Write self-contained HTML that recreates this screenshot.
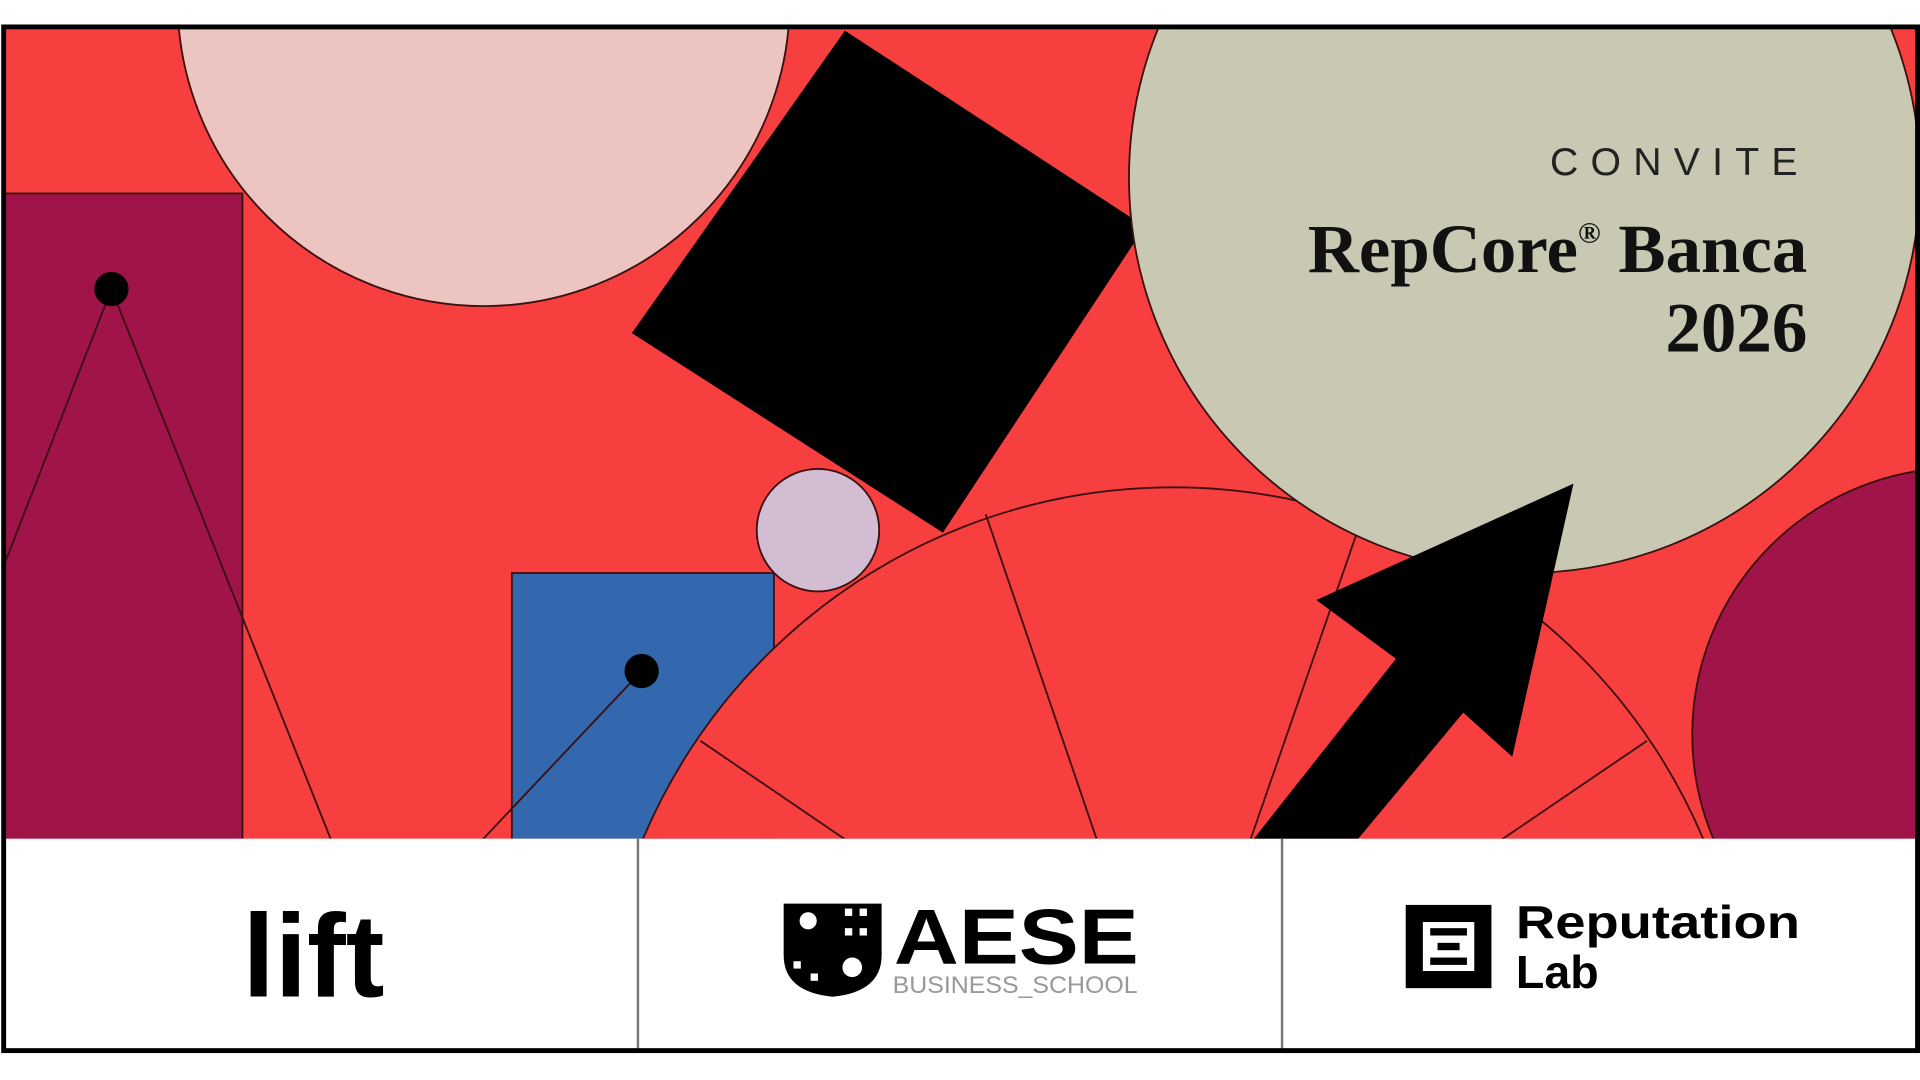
<!DOCTYPE html>
<html><head><meta charset="utf-8"><style>
html,body{margin:0;padding:0;background:#fff;width:1920px;height:1080px;overflow:hidden;}
svg{display:block;}
</style></head><body>
<svg width="1920" height="1080" viewBox="0 0 1568 882" xmlns="http://www.w3.org/2000/svg">
<defs><clipPath id="art"><rect x="4" y="24" width="1561" height="661"/></clipPath></defs>
<rect x="0" y="0" width="1568" height="882" fill="#fff"/>
<g clip-path="url(#art)" stroke="#3a1010" stroke-width="1.5">
  <rect x="0" y="0" width="1568" height="700" fill="#f83f3f" stroke="none"/>
  <circle cx="395" cy="0" r="250" fill="#ecc4c0"/>
  <rect x="3" y="158" width="195" height="540" fill="#a0144a"/>
  <line x1="91" y1="236" x2="0" y2="470" fill="none"/>
  <line x1="91" y1="236" x2="272" y2="690" fill="none"/>
  <circle cx="91" cy="236" r="14" fill="#000" stroke="none"/>
  <rect x="418" y="468" width="214" height="230" fill="#3468ae"/>
  <line x1="524" y1="548" x2="390" y2="690"/>
  <circle cx="524" cy="548" r="14" fill="#000" stroke="none"/>
  <circle cx="958" cy="868" r="470" fill="#f83f3f"/>
  <line x1="958" y1="868" x2="805" y2="420"/>
  <line x1="958" y1="868" x2="1112" y2="424"/>
  <line x1="958" y1="868" x2="572" y2="605"/>
  <line x1="958" y1="868" x2="1345" y2="605"/>
  <circle cx="668" cy="433" r="50" fill="#d3bdd3"/>
  <polygon points="690,25 935,185 770,435 516,272" fill="#000" stroke="none"/>
  <circle cx="1245" cy="145" r="323" fill="#c8c8b3"/>
  <circle cx="1600" cy="600" r="218" fill="#a0144a"/>
  <polygon points="1285,395 1235,618 1195,582 1105,690 1020,690 1140,538 1075,490" fill="#000" stroke="none"/>
</g>
<text x="1478" y="143" text-anchor="end" font-family="Liberation Sans, sans-serif" font-size="32" letter-spacing="10" fill="#222">CONVITE</text>
<text x="1068" y="222" font-family="Liberation Serif, serif" font-weight="bold" font-size="56" fill="#111" textLength="408" lengthAdjust="spacingAndGlyphs">RepCore<tspan font-size="24" dy="-24">®</tspan><tspan dy="24"> Banca</tspan></text>
<text x="1476" y="287" text-anchor="end" font-family="Liberation Serif, serif" font-weight="bold" font-size="58" fill="#111">2026</text>
<rect x="4" y="685" width="1561" height="172" fill="#fff"/>
<line x1="521" y1="685" x2="521" y2="857" stroke="#777" stroke-width="2"/>
<line x1="1047" y1="685" x2="1047" y2="857" stroke="#777" stroke-width="2"/>
<text x="198" y="814" font-family="Liberation Sans, sans-serif" font-weight="bold" font-size="96" fill="#000" textLength="116" lengthAdjust="spacingAndGlyphs">lift</text>
<g>
  <path d="M640 738 H720 V780 Q720 810 680 814 Q640 810 640 780 Z" fill="#000"/>
  <circle cx="660" cy="752" r="7" fill="#fff"/>
  <rect x="690" y="742" width="6" height="6" fill="#fff"/><rect x="702" y="742" width="6" height="6" fill="#fff"/>
  <rect x="690" y="758" width="6" height="6" fill="#fff"/><rect x="702" y="758" width="6" height="6" fill="#fff"/>
  <rect x="648" y="785" width="6" height="6" fill="#fff"/><rect x="662" y="795" width="6" height="6" fill="#fff"/>
  <circle cx="696" cy="790" r="8" fill="#fff"/>
</g>
<text x="730" y="787" font-family="Liberation Sans, sans-serif" font-weight="bold" font-size="64" fill="#000" textLength="200" lengthAdjust="spacingAndGlyphs">AESE</text>
<text x="729" y="811" font-family="Liberation Sans, sans-serif" font-size="20" fill="#999" textLength="200" lengthAdjust="spacingAndGlyphs">BUSINESS_SCHOOL</text>
<rect x="1148" y="739" width="70" height="68" fill="#000"/>
<rect x="1162" y="753" width="42" height="40" fill="#fff"/>
<rect x="1168" y="758" width="30" height="6" fill="#000"/><rect x="1174" y="770" width="18" height="6" fill="#000"/><rect x="1168" y="782" width="30" height="6" fill="#000"/>
<text x="1238" y="766" font-family="Liberation Sans, sans-serif" font-weight="bold" font-size="38" fill="#000" textLength="232" lengthAdjust="spacingAndGlyphs">Reputation</text>
<text x="1238" y="807" font-family="Liberation Sans, sans-serif" font-weight="bold" font-size="38" fill="#000">Lab</text>
<rect x="3" y="22" width="1563" height="836" fill="none" stroke="#000" stroke-width="4"/>
</svg>
</body></html>
